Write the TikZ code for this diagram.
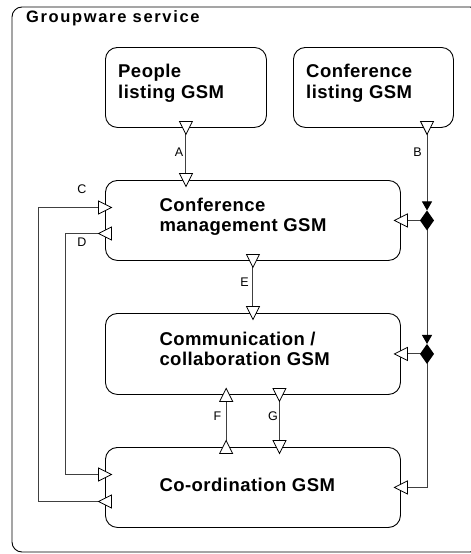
\documentclass[tikz,border=0pt]{standalone}
\usepackage{fontspec}
\setmainfont{Liberation Sans}
\newfontfamily\boxfont[LetterSpace=2.5]{Liberation Sans}
\newfontfamily\titlefont[LetterSpace=10]{Liberation Sans}
\usetikzlibrary{arrows.meta,calc}
\tikzset{
  gsm/.style={draw=black, line width=0.9pt, rounded corners=12pt, fill=white, inner sep=0pt, anchor=north west},
  conn/.style={draw=black!75, line width=1pt},
  tip/.style={-{Triangle[length=9pt,width=10pt,color=black,fill=black]}},
  lbl/.style={font=\fontsize{12.5}{14}\selectfont, inner sep=0pt},
  txt/.style={inner sep=0pt, anchor=base west},
  port/.style={draw=black, line width=0.8pt, fill=white, line join=miter},
  pics/portdown/.style={code={\path[port] (-6.5,-6.5) -- (6.5,-6.5) -- (0,6.5) -- cycle;}},
  pics/portup/.style={code={\path[port] (-6.5,6.5) -- (6.5,6.5) -- (0,-6.5) -- cycle;}},
  pics/portright/.style={code={\path[port] (-6.5,-6.5) -- (-6.5,6.5) -- (6.5,0) -- cycle;}},
  pics/portleft/.style={code={\path[port] (6.5,-6.5) -- (6.5,6.5) -- (-6.5,0) -- cycle;}},
}
\newcommand\gsmtext[1]{\parbox[t]{240pt}{\boxfont\bfseries\fontsize{18.5}{20.5}\selectfont #1}}
\begin{document}
\begin{tikzpicture}[x=1pt,y=-1pt]
\useasboundingbox (0,0) rectangle (471,554);
\fill[white] (0,0) rectangle (471,554);
% outer frame
\draw[black, line width=0.9pt, rounded corners=10pt] (12,7) rectangle (480,552);
\node[txt] (title) at (26,23) {\titlefont\bfseries\fontsize{16.5}{18}\selectfont Groupware service};

% boxes
\node[gsm, minimum width=161pt, minimum height=80pt] (ppl) at (105,47) {};
\node[gsm, minimum width=160pt, minimum height=80pt] (cfl) at (293,47) {};
\node[gsm, minimum width=295pt, minimum height=80pt] (cm)  at (105,180) {};
\node[gsm, minimum width=295pt, minimum height=81pt] (com) at (105,313) {};
\node[gsm, minimum width=295pt, minimum height=80pt] (crd) at (105,447) {};

% box texts
\node[txt] (pplT) at (118,77.7) {\gsmtext{People\\listing GSM}};
\node[txt] (cflT) at (306,77.7) {\gsmtext{Conference\\listing GSM}};
\node[txt] (cmT)  at (159.3,211) {\gsmtext{Conference\\management GSM}};
\node[txt] (comT) at (159.3,345) {\gsmtext{Communication /\\collaboration GSM}};
\node[txt] (crdT) at (159.3,491.7) {\gsmtext{Co-ordination GSM}};

% port coordinates
\coordinate (a1) at (ppl.south);
\coordinate (a2) at (cm.north -| a1);
\coordinate (b1) at ($(cfl.south west)+(134,0)$);
\coordinate (d1) at (b1 |- cm.east);
\coordinate (d2) at (b1 |- com.east);
\coordinate (cmR) at (cm.east);
\coordinate (comR) at (com.east);
\coordinate (crdR) at (crd.east);
\coordinate (cmC) at ($(cm.west)+(0,-13)$);
\coordinate (cmD) at ($(cm.west)+(0,13)$);
\coordinate (crdC) at ($(crd.west)+(0,14)$);
\coordinate (crdD) at ($(crd.west)+(0,-13)$);
\coordinate (cturn) at ($(cmC)+(-67,0)$);
\coordinate (dturn) at ($(crdD)+(-40,0)$);
\coordinate (e1) at (cm.south);
\coordinate (e2) at (com.north -| e1);
\coordinate (f1) at ($(crd.north)+(-26.8,0)$);
\coordinate (f2) at (com.south -| f1);
\coordinate (g1) at ($(com.south)+(26.5,0)$);
\coordinate (g2) at (crd.north -| g1);

% connectors
\draw[conn] (a1) -- (a2);
\draw[conn,tip] (b1) -- ($(d1)+(0,-10)$);
\draw[conn] (d1) -- (cmR);
\draw[conn,tip] (d1) -- ($(d2)+(0,-10)$);
\draw[conn] (d2) -- (comR);
\draw[conn] (d2) |- (crdR);
\draw[conn] (crdC) -| (cturn) -- (cmC);
\draw[conn] (cmD) -| (dturn) -- (crdD);
\draw[conn] (e1) -- (e2);
\draw[conn] (f1) -- (f2);
\draw[conn] (g1) -- (g2);

% diamonds
\fill[black] (d1) +(0,-10) -- +(7,0) -- +(0,10) -- +(-7,0) -- cycle;
\fill[black] (d2) +(0,-10) -- +(7,0) -- +(0,10) -- +(-7,0) -- cycle;

% ports
\pic at (a1) {portdown};
\pic at (a2) {portdown};
\pic at (b1) {portdown};
\pic at (cmR) {portleft};
\pic at (comR) {portleft};
\pic at (crdR) {portleft};
\pic at (crdC) {portleft};
\pic at (cmC) {portright};
\pic at (cmD) {portleft};
\pic at (crdD) {portright};
\pic at (e1) {portdown};
\pic at (e2) {portdown};
\pic at (f1) {portup};
\pic at (f2) {portup};
\pic at (g1) {portdown};
\pic at (g2) {portdown};

% labels
\node[lbl] (lA) at (179,152) {A};
\node[lbl] (lB) at (417.5,152) {B};
\node[lbl] (lC) at (82,189) {C};
\node[lbl] (lD) at (82,242) {D};
\node[lbl] (lE) at (244.5,282) {E};
\node[lbl] (lF) at (217.5,416) {F};
\node[lbl] (lG) at (273,416) {G};
\end{tikzpicture}
\end{document}
